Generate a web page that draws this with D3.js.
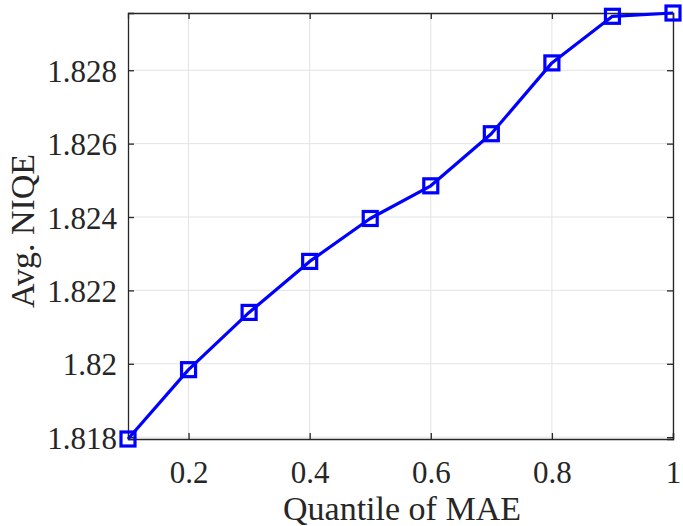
<!DOCTYPE html>
<html>
<head>
<meta charset="utf-8">
<script src="https://cdn.jsdelivr.net/npm/d3@7"></script>
<style>
  body { margin: 0; background: #fff; }
  svg text { font-family: "Liberation Serif", "Times New Roman", serif; fill: #262626; }
</style>
</head>
<body>
<div id="container"></div>
<script>
// Data
var quantiles = [0.1, 0.2, 0.3, 0.4, 0.5, 0.6, 0.7, 0.8, 0.9, 1.0];
var niqe = [1.81795, 1.81984, 1.82140, 1.82279, 1.82396, 1.82485, 1.82627, 1.82820, 1.82947, 1.82956];
var xTicks = [0.2, 0.4, 0.6, 0.8, 1];
var yTicks = [1.818, 1.82, 1.822, 1.824, 1.826, 1.828];

function drawChart() {
  // Size of the page and plot area
  var width = 683, height = 526;
  var margin = {top: 13, right: 10, bottom: 87, left: 128};
  var w = 673 - margin.left, h = 439 - margin.top;

  var svg = d3.select("#container")
    .append("svg")
    .attr("width", width)
    .attr("height", height);

  var g = svg.append("g")
    .attr("transform", "translate(" + margin.left + "," + margin.top + ")");

  // Scales (tight limits, as MATLAB's axis tight)
  var x = d3.scaleLinear().domain([0.1, 1]).range([0, w]);
  var y = d3.scaleLinear().domain([d3.min(niqe), d3.max(niqe)]).range([h, 0]);

  // Grid lines
  g.selectAll(".vgrid")
    .data(xTicks)
    .enter().append("line")
    .attr("x1", function(d) { return x(d); })
    .attr("x2", function(d) { return x(d); })
    .attr("y1", 0).attr("y2", h)
    .attr("stroke", "#e3e3e3").attr("stroke-width", 1);
  g.selectAll(".hgrid")
    .data(yTicks)
    .enter().append("line")
    .attr("x1", 0).attr("x2", w)
    .attr("y1", function(d) { return y(d); })
    .attr("y2", function(d) { return y(d); })
    .attr("stroke", "#e3e3e3").attr("stroke-width", 1);

  // Axes with inward ticks
  var fmt = function(d) { return String(+d.toFixed(3)); };
  var axBottom = g.append("g")
    .attr("transform", "translate(0," + h + ")")
    .call(d3.axisBottom(x).tickValues(xTicks).tickSize(-6).tickPadding(22).tickFormat(fmt));
  var axLeft = g.append("g")
    .call(d3.axisLeft(y).tickValues(yTicks).tickSize(-6).tickPadding(11).tickFormat(fmt));
  var axTop = g.append("g")
    .call(d3.axisTop(x).tickValues(xTicks).tickSize(-6).tickFormat(""));
  var axRight = g.append("g")
    .attr("transform", "translate(" + w + ",0)")
    .call(d3.axisRight(y).tickValues(yTicks).tickSize(-6).tickFormat(""));

  [axBottom, axLeft, axTop, axRight].forEach(function(a) {
    a.select(".domain").attr("stroke", "#262626").attr("stroke-width", 1.3);
    a.selectAll(".tick line").attr("stroke", "#262626").attr("stroke-width", 1.3);
    a.selectAll(".tick text")
      .style("font-family", "'Liberation Serif', serif")
      .style("font-size", "31px")
      .attr("fill", "#262626");
  });
  axBottom.selectAll(".tick text").attr("dy", "0.71em");
  axLeft.selectAll(".tick text").attr("dy", "0.36em");

  // Line and square markers
  var line = d3.line()
    .x(function(d, i) { return x(quantiles[i]); })
    .y(function(d) { return y(d); });

  g.append("path")
    .datum(niqe)
    .attr("d", line)
    .attr("fill", "none")
    .attr("stroke", "#0000ff")
    .attr("stroke-width", 3.2)
    .attr("stroke-linejoin", "round");

  var ms = 14;
  g.selectAll(".marker")
    .data(niqe)
    .enter().append("rect")
    .attr("x", function(d, i) { return x(quantiles[i]) - ms / 2; })
    .attr("y", function(d) { return y(d) - ms / 2; })
    .attr("width", ms)
    .attr("height", ms)
    .attr("fill", "none")
    .attr("stroke", "#0000ff")
    .attr("stroke-width", 3.2);

  // Axis labels
  svg.append("text")
    .attr("x", 402)
    .attr("y", 520)
    .attr("text-anchor", "middle")
    .style("font-size", "34px")
    .text("Quantile of MAE");

  svg.append("text")
    .attr("transform", "translate(34,231) rotate(-90)")
    .attr("text-anchor", "middle")
    .style("font-size", "34px")
    .text("Avg. NIQE");
}

drawChart();
</script>
</body>
</html>
